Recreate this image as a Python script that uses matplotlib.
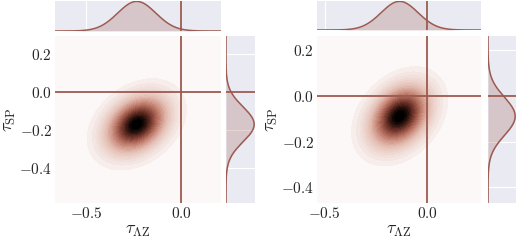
import numpy as np
import matplotlib.pyplot as plt
from matplotlib.colors import LinearSegmentedColormap

plt.style.use("seaborn-v0_8-darkgrid")
plt.rcParams["mathtext.fontset"] = "cm"

# read-off summary of the two posterior clouds (tau_AZ, tau_SP)
centers_x = [-0.233, -0.135]
centers_y = [-0.172, -0.090]
std_x = [0.100, 0.090]
std_y = [0.092, 0.083]
corr = [0.32, 0.32]
xlims = [(-0.663, 0.21), (-0.538, 0.262)]
ylims = [(-0.586, 0.293), (-0.468, 0.26)]
xticks = [-0.5, 0.0]
xticklabels = [r"$-0.5$", r"$0.0$"]
yticks = [0.2, 0.0, -0.2, -0.4]
yticklabels = [r"$0.2$", r"$0.0$", r"$-0.2$", r"$-0.4$"]

line_col = "#9c5a50"
cmap = LinearSegmentedColormap.from_list(
    "brown",
    [(0.0, "#fcf8f8"), (0.04, "#f5ebe8"), (0.3, "#e2b9ad"),
     (0.55, "#bb7565"), (0.8, "#6a3025"), (1.0, "#000000")])
n_bands = 30
band_colors = [cmap(v) for v in np.linspace(0, 1, n_bands)]

W, H = 518, 242
fig = plt.figure(figsize=(W / 100, H / 100), dpi=100)


def px_axes(x0, y0, x1, y1):
    # pixel box (top-left origin) -> figure axes
    return fig.add_axes([x0 / W, 1 - y1 / H, (x1 - x0) / W, (y1 - y0) / H])


def gauss2d(xx, yy, mx, my, sx, sy, r):
    zx = (xx - mx) / sx
    zy = (yy - my) / sy
    return np.exp(-(zx**2 - 2 * r * zx * zy + zy**2) / (2 * (1 - r**2)))


def gauss1d(v, m, s):
    return np.exp(-0.5 * ((v - m) / s) ** 2)


boxes = [
    # joint, top marginal, right marginal
    ((55, 36, 221, 203), (55, 0.5, 221, 31), (226, 36, 255, 203)),
    ((317, 36, 481, 203), (317, 0.5, 481, 30), (488, 36, 516, 203)),
]

for i in range(2):
    jb, tb, rb = boxes[i]
    ax = px_axes(*jb)
    axt = px_axes(*tb)
    axr = px_axes(*rb)

    xs = np.linspace(*xlims[i], 300)
    ys = np.linspace(*ylims[i], 300)
    xx, yy = np.meshgrid(xs, ys)
    zz = gauss2d(xx, yy, centers_x[i], centers_y[i], std_x[i], std_y[i], corr[i])
    ax.contourf(xx, yy, zz, levels=np.linspace(0, 1.0001, n_bands + 1),
                colors=band_colors)
    ax.axvline(0, color=line_col, lw=1.3)
    ax.axhline(0, color=line_col, lw=1.3)
    ax.set_xticks(xticks)
    ax.set_xticklabels(xticklabels, fontsize=11)
    ax.set_yticks(yticks)
    ax.set_yticklabels(yticklabels, fontsize=11)
    ax.set_xlim(*xlims[i])
    ax.set_ylim(*ylims[i])
    ax.tick_params(pad=2)
    ax.set_xlabel(r"$\tau_{\Lambda\mathrm{Z}}$", fontsize=13, labelpad=1)
    ax.set_ylabel(r"$\tau_{\mathrm{SP}}$", fontsize=13, labelpad=1)
    ax.grid(False)

    # top marginal
    mx = gauss1d(xs, centers_x[i], std_x[i])
    axt.fill_between(xs, 0, mx, color=line_col, alpha=0.25, lw=0)
    axt.plot(xs, mx, color=line_col, lw=1.1)
    axt.axvline(0, color=line_col, lw=1.3)
    axt.set_xticks([-0.5, 0.0, 0.5])
    axt.set_yticks([])
    axt.set_xlim(*xlims[i])
    axt.set_ylim(0, 1.03)
    axt.tick_params(labelbottom=False, labelleft=False)

    # right marginal
    my = gauss1d(ys, centers_y[i], std_y[i])
    axr.fill_betweenx(ys, 0, my, color=line_col, alpha=0.25, lw=0)
    axr.plot(my, ys, color=line_col, lw=1.1)
    axr.axhline(0, color=line_col, lw=1.3)
    axr.set_yticks(yticks)
    axr.set_xticks([])
    axr.set_ylim(*ylims[i])
    axr.set_xlim(0, 1.03)
    axr.tick_params(labelbottom=False, labelleft=False)

fig.savefig("out.png", dpi=100)
